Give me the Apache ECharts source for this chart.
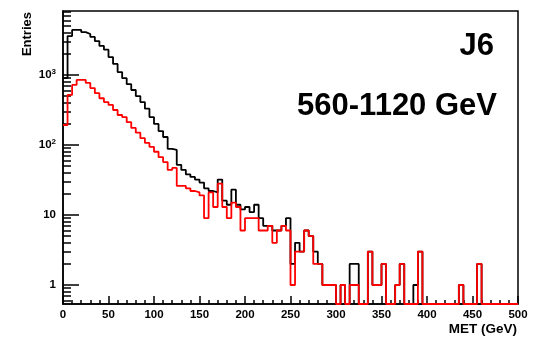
<!DOCTYPE html>
<html><head><meta charset="utf-8">
<script src="https://cdn.jsdelivr.net/npm/echarts@6/dist/echarts.min.js"></script>
<style>html,body{margin:0;padding:0;background:#fff}#c{width:537px;height:337px}</style>
</head><body><div id="c"></div>
<script>
// Histogram binning (GeV)
const binLow = 0;
const binWidth = 5;

// Black histogram: all events (counts per 5 GeV bin, 0-500 GeV)
const totalCounts = [
  900, 3600, 4400, 4400, 4100, 3850, 3500, 3050, 2600, 2300,
  1800, 1440, 1100, 900, 740, 610, 500, 410, 330, 250,
  200, 158, 130, 88, 85, 52, 44, 38, 35, 32,
  29, 24, 22, 21, 32, 16, 14, 23, 14, 12,
  13, 11, 14, 9, 7, 7, 6, 6, 7, 9,
  2, 4, 3, 6, 5, 3, 2, 1, 1, 1,
  0, 1, 0, 2, 2, 0, 0, 3, 1, 1,
  2, 0, 0, 1, 2, 0, 0, 1, 3, 0,
  0, 0, 0, 0, 0, 0, 0, 1, 0, 0,
  0, 2, 0, 0, 0, 0, 0, 0, 0, 0
];

// Red histogram: selected events
const selectedCounts = [
  193, 518, 720, 850, 850, 770, 650, 550, 465, 410,
  373, 316, 268, 250, 212, 175, 150, 125, 107, 94,
  80, 67, 57, 44, 47, 26, 26, 24, 22, 21,
  19, 9, 21, 13, 28, 13, 9, 15, 13, 6,
  9, 9, 9, 6, 6, 7, 4, 6, 7, 6,
  1, 3, 3, 6, 5, 2, 2, 1, 1, 1,
  0, 1, 0, 1, 1, 0, 0, 3, 1, 1,
  2, 0, 0, 1, 2, 0, 0, 0, 3, 0,
  0, 0, 0, 0, 0, 0, 0, 1, 0, 0,
  0, 2, 0, 0, 0, 0, 0, 0, 0, 0
];

const xTickLabels = [0, 50, 100, 150, 200, 250, 300, 350, 400, 450, 500];
const yTickValues = [1, 10, 100, 1000];
const Y_MIN = 0.535;
const Y_MAX = 8200;

const yMinorTicks = [];
[0.1, 1, 10, 100, 1000].forEach(d => {
  for (let k = 2; k <= 9; k++) {
    const v = +(k * d).toPrecision(3);
    if (v >= Y_MIN && v <= Y_MAX) yMinorTicks.push(v);
  }
});

function stepData(counts) {
  const pts = counts.map((v, i) => [binLow + i * binWidth, Math.max(v, Y_MIN)]);
  pts.push([binLow + counts.length * binWidth, Math.max(counts[counts.length - 1], Y_MIN)]);
  return pts;
}

const FONT = '"Liberation Sans", Arial, sans-serif';
const chart = echarts.init(document.getElementById('c'), null, {renderer: 'canvas'});
chart.setOption({
  animation: false,
  backgroundColor: '#fff',
  grid: {left: 63, right: 19, top: 11, bottom: 33, show: true, borderColor: '#000', borderWidth: 1.5, backgroundColor: 'transparent'},
  xAxis: {
    type: 'value', min: xTickLabels[0], max: xTickLabels[xTickLabels.length - 1], interval: 50,
    axisLine: {show: true, lineStyle: {color: '#000', width: 1.5}},
    axisTick: {show: true, inside: true, length: 8, lineStyle: {color: '#000', width: 1.5}},
    minorTick: {show: true, splitNumber: 5, length: 4, lineStyle: {color: '#000', width: 1.5}},
    splitLine: {show: false},
    axisLabel: {color: '#000', fontSize: 11.5, fontWeight: 'bold', fontFamily: FONT, margin: 5}
  },
  yAxis: [{
    type: 'log', min: Y_MIN, max: Y_MAX, position: 'left',
    axisLine: {show: true, lineStyle: {color: '#000', width: 1.5}},
    axisTick: {show: true, inside: true, length: 16, customValues: yTickValues, lineStyle: {color: '#000', width: 1.5}},
    splitLine: {show: false},
    minorTick: {show: false},
    axisLabel: {
      customValues: yTickValues, color: '#000', fontSize: 11.5, fontWeight: 'bold', fontFamily: FONT, margin: 7,
      formatter: v => {
        const e = Math.round(Math.log10(v));
        if (e === 0) return '1';
        if (e === 1) return '10';
        return '10{sup|' + e + '}';
      },
      rich: {sup: {fontSize: 8, fontWeight: 'bold', fontFamily: FONT, color: '#000', verticalAlign: 'bottom', padding: [0, 0, 7, 0]}}
    }
  }, {
    type: 'log', min: Y_MIN, max: Y_MAX, position: 'left',
    axisLine: {show: false},
    axisTick: {show: true, inside: true, length: 8, customValues: yMinorTicks, lineStyle: {color: '#000', width: 1.5}},
    axisLabel: {show: false},
    splitLine: {show: false}
  }],
  series: [{
    type: 'line', step: 'end', data: stepData(totalCounts), symbol: 'none', clip: false,
    lineStyle: {color: '#000', width: 1.8}, z: 3
  }, {
    type: 'line', step: 'end', data: stepData(selectedCounts), symbol: 'none', clip: false,
    lineStyle: {color: '#ff0000', width: 1.8}, z: 4
  }],
  graphic: [
    {type: 'text', x: 27, y: 12, rotation: Math.PI / 2,
     style: {text: 'Entries', fill: '#000', font: 'bold 13px ' + FONT, textAlign: 'right', textVerticalAlign: 'middle'}},
    {type: 'text', x: 517, y: 329,
     style: {text: 'MET (GeV)', fill: '#000', font: 'bold 13.5px ' + FONT, textAlign: 'right', textVerticalAlign: 'middle'}},
    {type: 'text', x: 494, y: 46,
     style: {text: 'J6', fill: '#000', font: 'bold 31px ' + FONT, textAlign: 'right', textVerticalAlign: 'middle'}},
    {type: 'text', x: 497, y: 106,
     style: {text: '560-1120 GeV', fill: '#000', font: 'bold 31px ' + FONT, textAlign: 'right', textVerticalAlign: 'middle'}}
  ]
});
</script></body></html>
